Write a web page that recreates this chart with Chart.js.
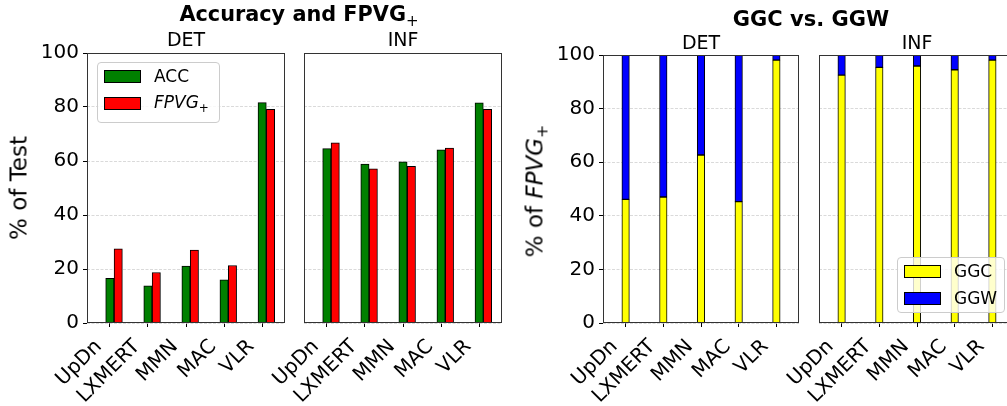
<!DOCTYPE html>
<html><head><meta charset="utf-8">
<script src="https://cdn.jsdelivr.net/npm/chart.js@4.4.0/dist/chart.umd.min.js"></script>
<style>
html,body{margin:0;padding:0;width:1007px;height:406px;overflow:hidden;background:#fff;font-family:"DejaVu Sans",sans-serif;color:#000;}
body{position:relative;}
canvas{position:absolute;left:0;top:0;}
.t{position:absolute;white-space:nowrap;line-height:1;}
.sub{position:relative;font-style:normal;}
.legend{position:absolute;box-sizing:border-box;border:1px solid #cccccc;border-radius:4px;background:rgba(255,255,255,0.8);}
.item{position:absolute;left:6px;height:13px;display:flex;align-items:center;}
.patch{box-sizing:border-box;width:37px;height:13px;border:1px solid #000;margin-right:13px;}
.lbl{font-size:17px;line-height:13px;white-space:nowrap;}
</style></head><body>
<canvas id="cLD" width="1030" height="406"></canvas>
<canvas id="cLI" width="1030" height="406"></canvas>
<canvas id="cRD" width="1030" height="406"></canvas>
<canvas id="cRI" width="1030" height="406"></canvas>

<div class="t" style="font-size:20.8px;font-weight:bold;left:299px;top:4.1px;transform:translateX(-50%);">Accuracy and FPVG<span class="sub" style="font-size:15px;top:5px;font-weight:normal;">+</span></div>
<div class="t" style="font-size:21px;font-weight:bold;left:811px;top:8.7px;transform:translateX(-50%);">GGC vs. GGW</div>
<div class="t" style="font-size:19px;left:186px;top:29.9px;transform:translateX(-50%);">DET</div>
<div class="t" style="font-size:19px;left:403px;top:29.9px;transform:translateX(-50%);">INF</div>
<div class="t" style="font-size:19px;left:701px;top:33.4px;transform:translateX(-50%);">DET</div>
<div class="t" style="font-size:19px;left:917px;top:33.4px;transform:translateX(-50%);">INF</div>
<div class="t" style="font-size:23px;left:19px;top:188px;transform:translate(-50%,-50%) rotate(-90deg);">% of Test</div>
<div class="t" style="font-size:23px;left:534.5px;top:191px;transform:translate(-50%,-50%) rotate(-90deg);">% of <i>FPVG</i><span class="sub" style="font-size:16px;top:5px;">+</span></div>

<div id="legL" class="legend" style="left:97px;top:62px;width:123px;height:61px;"></div>
<div id="legR" class="legend" style="left:897px;top:257px;width:108px;height:56px;"></div>

<script>
// ---------- data ----------
const categories = ['UpDn', 'LXMERT', 'MMN', 'MAC', 'VLR'];
const accDET  = [16.5, 13.8, 21.1, 16.0, 81.6];
const fpvgDET = [27.5, 18.7, 27.0, 21.3, 79.1];
const accINF  = [64.6, 58.9, 59.7, 64.1, 81.5];
const fpvgINF = [66.7, 57.1, 58.0, 64.8, 79.1];
const ggcDET  = [46.1, 47.0, 62.7, 45.3, 98.1];
const ggwDET  = [53.9, 53.0, 37.3, 54.7, 1.9];
const ggcINF  = [92.5, 95.4, 95.9, 94.5, 98.1];
const ggwINF  = [7.5, 4.6, 4.1, 5.5, 1.9];
const yTicks  = [0, 20, 40, 60, 80, 100];
const leftNames  = ['ACC', 'FPVG+'];
const rightNames = ['GGC', 'GGW'];

// ---------- styles ----------
const leftColors  = ['#008000', '#ff0000'];
const rightColors = ['#ffff00', '#0000ff'];
const CW = 1030, CH = 406;
const FONT = 'DejaVu Sans';

const framePlugin = {
  id: 'frame',
  afterDraw(chart) {
    const {ctx, chartArea: a} = chart;
    ctx.save();
    ctx.strokeStyle = '#333';
    ctx.lineWidth = 1;
    const l = Math.round(a.left) + 0.5, t = Math.round(a.top) + 0.5;
    const r = Math.round(a.right) - 0.5, b = Math.round(a.bottom) - 0.5;
    ctx.strokeRect(l, t, r - l, b - t);
    ctx.restore();
  }
};

function makePanel(id, area, datasets, showY, stacked) {
  return new Chart(document.getElementById(id), {
    type: 'bar',
    data: { datasets },
    options: {
      responsive: false, animation: false, devicePixelRatio: 1,
      layout: { padding: { left: 0, top: area.top, right: CW - area.right, bottom: 0 } },
      plugins: { legend: { display: false }, tooltip: { enabled: false }, title: { display: false } },
      scales: {
        x: {
          type: 'linear', min: -0.6, max: 4.6, bounds: 'data', offset: false,
          afterBuildTicks: s => { s.ticks = categories.map((c, i) => ({ value: i })); },
          afterFit: s => { s.height = CH - area.bottom; },
          grid: { offset: false, drawOnChartArea: false, drawTicks: true, tickLength: 4, tickColor: '#000', tickWidth: 1 },
          border: { display: false },
          ticks: {
            autoSkip: false, minRotation: 45, maxRotation: 45, padding: 8, labelOffset: -11,
            color: '#000', font: { family: FONT, size: 20 },
            callback: (v, i) => categories[i]
          }
        },
        y: {
          min: 0, max: 100, stacked: stacked,
          afterBuildTicks: s => { s.ticks = yTicks.map(v => ({ value: v })); },
          afterFit: s => { s.width = area.left; },
          grid: { color: '#d0d0d0', lineWidth: 0.8, drawTicks: showY, tickLength: 4, tickColor: '#000', tickWidth: 1 },
          border: { display: false, dash: [3, 1.5] },
          ticks: { display: showY, padding: 4, color: '#000', font: { family: FONT, size: 20 } }
        }
      }
    },
    plugins: [framePlugin]
  });
}

const LW = 0.22; // bar width in category units (left panels)
function groupedSets(series) {
  return series.map((vals, k) => ({
    label: leftNames[k],
    data: vals.map((v, i) => ({ x: i + k * LW, y: v })),
    backgroundColor: leftColors[k], borderColor: '#000', borderWidth: 1,
    borderSkipped: false, grouped: false, barThickness: 8.3
  }));
}
function stackedSets(series) {
  return series.map((vals, k) => ({
    label: rightNames[k],
    data: vals.map((v, i) => ({ x: i, y: v })),
    backgroundColor: rightColors[k], borderColor: '#000', borderWidth: 1,
    borderSkipped: false, grouped: false, barThickness: 7.5
  }));
}

makePanel('cLD', { left: 87, right: 285, top: 53, bottom: 323 }, groupedSets([accDET, fpvgDET]), true, false);
makePanel('cLI', { left: 304, right: 502, top: 53, bottom: 323 }, groupedSets([accINF, fpvgINF]), false, false);
makePanel('cRD', { left: 603, right: 799, top: 55, bottom: 323 }, stackedSets([ggcDET, ggwDET]), true, true);
makePanel('cRI', { left: 819, right: 1015, top: 55, bottom: 323 }, stackedSets([ggcINF, ggwINF]), false, true);

// ---------- legends ----------
function fmtName(n) {
  return n.endsWith('+') ? '<i>' + n.slice(0, -1) + '</i><span class="sub" style="font-size:12px;top:4px;">+</span>' : n;
}
function makeLegend(id, names, colors, tops) {
  const box = document.getElementById(id);
  names.forEach((n, k) => {
    const it = document.createElement('div');
    it.className = 'item';
    it.style.top = tops[k] + 'px';
    it.innerHTML = '<div class="patch" style="background:' + colors[k] + '"></div><div class="lbl">' + fmtName(n) + '</div>';
    box.appendChild(it);
  });
}
makeLegend('legL', leftNames, leftColors, [7, 34.3]);
makeLegend('legR', rightNames, rightColors, [7, 33.7]);
</script>
</body></html>
